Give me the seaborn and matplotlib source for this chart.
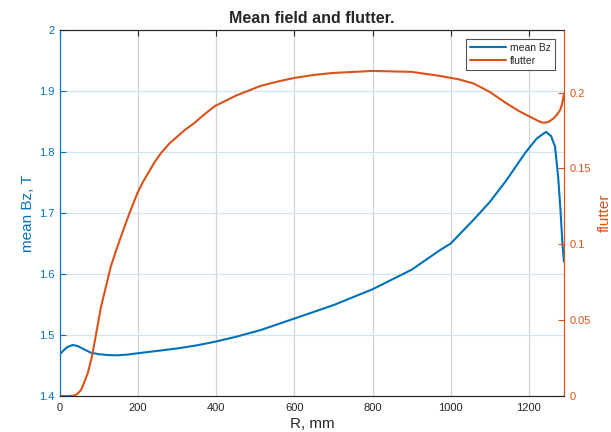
import numpy as np
import pandas as pd
import matplotlib
matplotlib.use("Agg")
import matplotlib.pyplot as plt
import seaborn as sns

# Data
r_bz = [0, 8, 18, 32, 45, 60, 79, 100, 125, 147, 175, 198, 250, 300, 350, 397, 450,
        513, 600, 700, 800, 900, 973, 1000, 1058, 1100, 1143, 1190, 1220, 1244, 1257,
        1267, 1275, 1281, 1286, 1290]
bz = [1.4685, 1.474, 1.480, 1.4836, 1.482, 1.477, 1.471, 1.4685, 1.467, 1.4667, 1.468,
      1.470, 1.474, 1.478, 1.483, 1.489, 1.497, 1.508, 1.527, 1.549, 1.575, 1.607,
      1.6393, 1.650, 1.6885, 1.718, 1.754, 1.798, 1.822, 1.833, 1.826, 1.809, 1.7595,
      1.705, 1.650, 1.620]

r_fl = [0, 20, 37, 45, 54, 62, 71, 80, 88, 96, 105, 118, 130, 143, 156, 177, 198, 212,
        228, 243, 258, 280, 300, 320, 343, 370, 397, 450, 513, 560, 600, 650, 700, 800,
        900, 973, 1020, 1058, 1100, 1143, 1175, 1203, 1225, 1237, 1250, 1263, 1272,
        1280, 1285, 1290]
flutter = [0, 0, 0.0003, 0.0015, 0.004, 0.009, 0.015, 0.024, 0.0347, 0.046, 0.0589,
           0.0725, 0.0853, 0.0955, 0.105, 0.120, 0.1337, 0.141, 0.148, 0.1545, 0.160,
           0.1665, 0.171, 0.1755, 0.1798, 0.1858, 0.1912, 0.198, 0.2044, 0.2075, 0.2097,
           0.2117, 0.213, 0.2143, 0.2137, 0.2110, 0.2088, 0.2061, 0.2005, 0.1929,
           0.1878, 0.1841, 0.1812, 0.1801, 0.1806, 0.1830, 0.1855, 0.1885, 0.1925, 0.199]

x_ticks = [0, 200, 400, 600, 800, 1000, 1200]
left_ticks = [1.4, 1.5, 1.6, 1.7, 1.8, 1.9, 2.0]
left_labels = ["1.4", "1.5", "1.6", "1.7", "1.8", "1.9", "2"]
right_ticks = [0, 0.05, 0.1, 0.15, 0.2]
right_labels = ["0", "0.05", "0.1", "0.15", "0.2"]

BLUE = "#0072BD"
ORANGE = "#D95319"
DARK = "#262626"

sns.set_style("white")
plt.rcParams["font.family"] = ["Liberation Sans", "DejaVu Sans"]

fig = plt.figure(figsize=(6.11, 4.32), dpi=100)
ax = fig.add_axes([60 / 611, 36 / 432, 504 / 611, 366 / 432])
ax2 = ax.twinx()

df_bz = pd.DataFrame({"R": r_bz, "Bz": bz})
df_fl = pd.DataFrame({"R": r_fl, "flutter": flutter})

sns.lineplot(data=df_bz, x="R", y="Bz", ax=ax, color=BLUE, lw=1.5, label="mean Bz", legend=False)
sns.lineplot(data=df_fl, x="R", y="flutter", ax=ax2, color=ORANGE, lw=1.5, label="flutter", legend=False)

ax.set_xlim(0, 1290)
ax.set_ylim(1.4, 2.0)
ax2.set_ylim(0, 0.2413)

ax.set_xticks(x_ticks)
ax.set_xticklabels([str(t) for t in x_ticks])
ax.set_yticks(left_ticks)
ax.set_yticklabels(left_labels)
ax2.set_yticks(right_ticks)
ax2.set_yticklabels(right_labels)

# grid
for t in x_ticks[1:]:
    ax.axvline(t, color="#d4d4d4", lw=0.9, zorder=0)
for t in left_ticks[1:-1]:
    ax.axhline(t, color="#d3e3f0", lw=0.9, zorder=0)

ax.tick_params(axis="x", direction="in", length=4, colors=DARK, labelsize=8, top=True, pad=5)
ax.tick_params(axis="y", direction="in", length=4, colors=BLUE, labelsize=8, labelcolor=BLUE, pad=4)
ax2.tick_params(axis="y", direction="in", length=4, colors=ORANGE, labelsize=8, labelcolor=ORANGE, pad=4)

for a in (ax, ax2):
    a.spines["top"].set_color(DARK)
    a.spines["bottom"].set_color(DARK)
    a.spines["left"].set_color(BLUE)
    a.spines["right"].set_color(ORANGE)
    for s in a.spines.values():
        s.set_linewidth(0.8)

ax.set_xlabel("R, mm", fontsize=11, color=DARK, labelpad=3)
ax.set_ylabel("mean Bz, T", fontsize=11, color=BLUE, labelpad=3)
ax2.set_ylabel("flutter", fontsize=11, color=ORANGE, labelpad=5)
ax.set_title("Mean field and flutter.", fontsize=11.5, fontweight="bold", pad=5)

h1, lab1 = ax.get_legend_handles_labels()
h2, lab2 = ax2.get_legend_handles_labels()
leg = ax2.legend(h1 + h2, lab1 + lab2, loc="upper right", bbox_to_anchor=(0.982, 0.976),
                 borderaxespad=0, fontsize=7.5, frameon=True, fancybox=False,
                 handlelength=3.4, borderpad=0.4, labelspacing=0.3, handletextpad=0.4,
                 edgecolor=DARK)
leg.get_frame().set_linewidth(0.8)

fig.savefig("out.png", dpi=100)
